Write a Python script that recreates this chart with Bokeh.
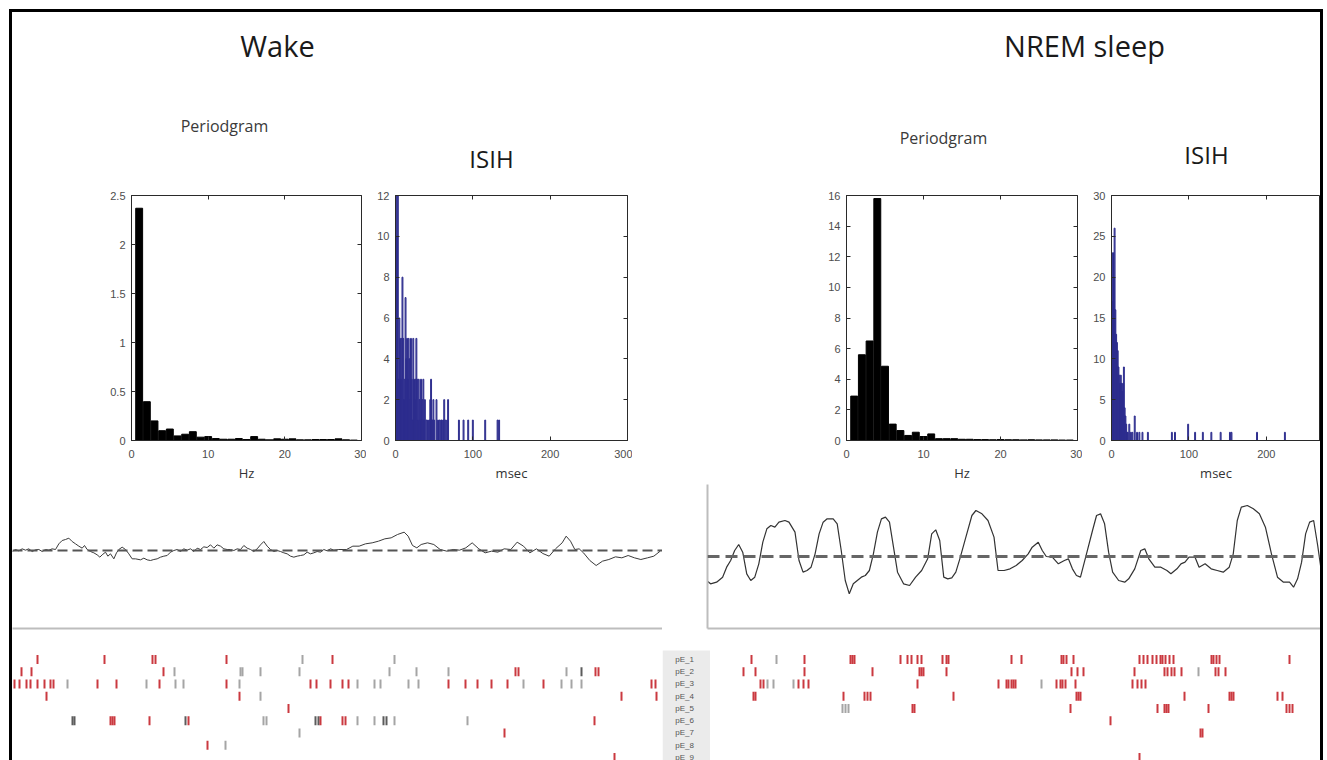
from bokeh.plotting import figure
from bokeh.layouts import row, column
from bokeh.models import (Range1d, FixedTicker, LinearAxis, Label, Spacer,
                          BoxAnnotation, Span, ColumnDataSource, CustomJSTickFormatter)
from bokeh.embed import file_html
from bokeh.resources import INLINE
from bokeh.core.properties import value

# ---------------- data ----------------
# Periodogram (power x 10^7) at 1..29 Hz
hz = list(range(1, 30))
wake_power = [2.37, 0.396, 0.20, 0.10, 0.117, 0.047, 0.064, 0.09, 0.034, 0.04,
              0.02, 0.013, 0.013, 0.02, 0.01, 0.04, 0.013, 0.007, 0.017, 0.013,
              0.017, 0.007, 0.007, 0.01, 0.01, 0.01, 0.017, 0.007, 0.004]
nrem_power = [2.9, 5.6, 6.5, 15.8, 4.85, 1.07, 0.65, 0.33, 0.54, 0.26,
              0.43, 0.12, 0.12, 0.12, 0.08, 0.08, 0.06, 0.06, 0.05, 0.06,
              0.05, 0.05, 0.04, 0.05, 0.04, 0.04, 0.04, 0.03, 0.03]

# ISI histograms (msec -> count)
wake_isi_ms = [1, 2, 3, 4, 5, 6, 7, 8, 9, 10, 11, 12, 13, 14, 15, 16, 17, 18, 19, 20,
               21, 22, 23, 24, 25, 26, 27, 28, 29, 30, 31, 32, 33, 34, 35, 36, 37, 38,
               40, 42, 44, 45, 46, 47, 48, 49, 50, 53, 55, 57, 59, 60, 62, 63, 65, 67,
               68, 82, 88, 94, 100, 116, 132, 134]
wake_isi_n = [12, 10, 12, 3, 6, 5, 3, 5, 8, 5, 2, 3, 7, 4, 5, 3, 5, 4, 2, 5,
              3, 1, 5, 3, 2, 3, 5, 3, 1, 3, 2, 1, 3, 1, 2, 3, 1, 2,
              1, 1, 1, 2, 3, 1, 1, 2, 1, 2, 1, 1, 1, 1, 1, 2, 1, 1,
              2, 1, 1, 1, 1, 1, 1, 1]
nrem_isi_ms = [1, 2, 3, 4, 5, 6, 7, 8, 9, 10, 11, 12, 13, 14, 15, 16, 17, 18, 19, 20,
               21, 23, 25, 27, 30, 33, 36, 40, 47, 78, 82, 99, 108, 118, 129, 141,
               153, 155, 188, 224]
nrem_isi_n = [17, 23, 20, 26, 16, 13, 12, 11, 9, 8, 7, 8, 7, 6, 7, 9, 4, 3, 2, 1,
              1, 2, 1, 1, 3, 1, 1, 1, 1, 1, 1, 2, 1, 1, 1, 1,
              1, 1, 1, 1]

# EEG traces (sample position, amplitude)
wake_t = [5, 15, 25, 35, 45, 55, 65, 75, 85, 95, 105, 115, 125, 135, 145, 155, 165, 175,
          185, 195, 205, 215, 222, 230, 240, 250, 260, 268, 275, 285, 292, 300, 310, 318,
          325, 335, 345, 355, 365, 375, 390, 400, 410, 420, 430, 440, 450, 460, 470, 480,
          490, 500, 510, 520, 530, 540, 550, 560, 570, 580, 590, 600, 610, 620, 630, 640,
          650, 660, 670, 680, 690, 700, 710, 720, 730, 740, 750, 760, 770, 780, 790, 800,
          810, 820, 830, 840, 850, 860, 870, 880, 890, 900, 910, 920, 930, 940, 950, 960,
          970, 985,
          1008, 1027, 1046, 1065, 1085, 1104, 1123, 1142, 1161, 1181, 1193, 1206, 1219,
          1232, 1251, 1270, 1289, 1309, 1328, 1347, 1366, 1385, 1405, 1424, 1443, 1462,
          1481, 1501, 1520, 1539, 1558, 1578, 1597, 1616, 1635, 1655, 1667, 1680, 1693,
          1706, 1719, 1738, 1757, 1776, 1795, 1815, 1834, 1853, 1872, 1891, 1911, 1930,
          1949]
wake_eeg = [-3, 3, -1, 5, 1, 5, -3, 2, 3, -3, 3, 1, 5, 3, 20, 30, 33, 37,
            27, 20, 13, 7, 15, 3, -3, -7, -13, -20, -13, -5, -17, -10, -25, -7,
            3, 10, 3, -10, -25, -25, -28, -23, -28, -30, -27, -25, -20, -17, -15, -5,
            0, 3, -3, 5, 1, 5, -3, 7, 3, 11, 9, 17, 7, 17, 13, 5,
            3, 3, 0, 5, 3, 15, 7, 3, -3, 5, 17, 27, 13, 3, -3, 0,
            -3, -7, -10, -17, -20, -17, -15, -13, -5, -10, -7, -3, -5, 3, -1, 5,
            1, 3,
            3, 13, 13, 20, 23, 28, 35, 38, 48, 55, 43, 15, 8,
            18, 23, 18, 3, -2, 3, 1, 8, 23, 5, -7, -2, -5,
            5, 3, 25, 13, -7, 5, -9, -17, 5, 23, 43, 28, 3,
            5, -7, -30, -45, -32, -27, -19, -22, -15, -22, -27, -22, -17,
            -2]

nrem_t = [15, 25, 40, 55, 65, 75, 85, 95, 105, 115, 125, 135, 145, 155, 165, 175, 185,
          195, 210, 220, 235, 245, 255, 265, 275, 285, 295, 305, 315, 330, 340, 350, 360,
          370, 380, 390, 400, 410, 420, 430, 440, 450, 460, 470, 480, 490, 505, 520, 535,
          550, 565, 575, 585, 595, 605, 615, 625, 635, 645, 660, 675, 685, 700, 715, 730,
          740, 755, 770, 785, 800, 815, 825, 840, 850, 860, 875, 890, 905, 915, 925, 935,
          945, 960, 975, 985, 995, 1005, 1015, 1025, 1040, 1055, 1065, 1080, 1095, 1105,
          1115, 1130, 1145, 1160, 1170, 1185, 1195, 1205, 1215, 1230, 1240, 1255, 1270,
          1285, 1300, 1315, 1325, 1335, 1345, 1360, 1375, 1390, 1405, 1420, 1435, 1450,
          1465, 1475, 1485, 1495, 1505, 1515, 1525, 1535, 1545]
nrem_eeg = [-72, -82, -77, -62, -32, -12, 18, 36, 13, -52, -72, -62, -22, 43, 83, 93, 88,
            103, 108, 103, 73, -12, -47, -42, -32, 8, 68, 103, 113, 113, 98, 18, -72,
            -112, -82, -72, -62, -57, -42, 8, 73, 113, 118, 103, 28, -47, -82, -87, -62,
            -42, -7, 68, 80, 48, -62, -67, -64, -47, -7, 58, 123, 138, 128, 108, 58,
            -42, -42, -37, -27, -12, 8, 28, 43, 18, 0, -2, -22, -12, -7, -37, -57,
            -62, 8, 78, 123, 128, 98, 13, -47, -72, -77, -67, -37, 18, 23,
            -7, -32, -32, -42, -52, -37, -22, -17, -2, -2, -32, -22, -37,
            -42, -47, -32, 8, 108, 148, 153, 143, 128, 88, 8, -62, -77,
            -77, -92, -67, -17, 68, 103, 108, 33, -52]

# Spike rasters (spike position per unit)
units = ["pE_1", "pE_2", "pE_3", "pE_4", "pE_5", "pE_6", "pE_7", "pE_8", "pE_9"]
wake_red = {
    "pE_1": [37, 104, 152, 155, 226, 332],
    "pE_2": [21, 31, 163, 515, 518, 595, 598],
    "pE_3": [14, 19, 26, 30, 37, 44, 50, 53, 97, 116, 159, 226, 310, 316, 330, 342, 348,
             448, 465, 477, 491, 507, 543, 651, 655],
    "pE_4": [46, 239, 621, 656],
    "pE_5": [288],
    "pE_6": [110, 112, 114, 149, 188, 320, 342, 345, 594],
    "pE_7": [504],
    "pE_8": [207],
    "pE_9": [614],
}
wake_gray = {
    "pE_1": [302, 394],
    "pE_2": [174, 240, 242, 260, 299, 389, 416, 448, 566],
    "pE_3": [67, 146, 175, 183, 239, 357, 374, 380, 408, 418, 523, 561, 571, 581],
    "pE_4": [260],
    "pE_6": [263, 266, 357, 374, 394, 467],
    "pE_7": [299],
    "pE_8": [225],
}
wake_dark = {
    "pE_2": [581],
    "pE_6": [72, 74, 185, 315, 318, 383, 386],
}
nrem_red = {
    "pE_1": [8, 51, 104, 150, 152, 154, 200, 207, 211, 217, 221, 242, 246, 248, 311, 321,
             361, 363, 366, 373, 439, 443, 447, 452, 456, 460, 462, 465, 469, 473,
             511, 513, 516, 519, 589],
    "pE_2": [43, 55, 104, 172, 219, 221, 223, 246, 371, 377, 383, 434, 464, 467, 471,
             474, 481, 515, 518, 525],
    "pE_3": [60, 63, 98, 103, 108, 217, 298, 306, 308, 311, 313, 315, 356, 360, 362,
             365, 375, 432, 437, 441, 445],
    "pE_4": [53, 55, 143, 164, 167, 170, 253, 376, 378, 380, 484, 529, 531, 533, 577,
             582, 622],
    "pE_5": [212, 214, 370, 457, 464, 466, 468, 508, 586, 589, 592],
    "pE_6": [410],
    "pE_7": [500, 502],
    "pE_9": [439],
}
nrem_gray = {
    "pE_1": [76],
    "pE_2": [498],
    "pE_3": [67, 73, 93, 341],
    "pE_5": [142, 145, 148],
}

# ---------------- helpers ----------------
AX = "#2a2a2a"
TICKC = "#4d4d4d"


def base(w, h, **kw):
    p = figure(width=w, height=h, output_backend="svg", toolbar_location=None, **kw)
    p.xgrid.visible = False
    p.ygrid.visible = False
    p.background_fill_color = "white"
    p.border_fill_color = "white"
    return p


def style_axis(ax, ticks, standoff=6):
    ax.ticker = FixedTicker(ticks=ticks)
    ax.axis_line_color = AX
    ax.major_tick_line_color = AX
    ax.major_tick_in = 4
    ax.major_tick_out = 0
    ax.minor_tick_line_color = None
    ax.formatter = CustomJSTickFormatter(code="return String(tick)")
    ax.major_label_text_font = "Liberation Sans"
    ax.major_label_text_font_size = "11px"
    ax.major_label_text_color = TICKC
    ax.major_label_standoff = standoff


def tick_only_axis(ticks):
    # mirror axis (top / right): tick marks only, drawn as minor ticks so no labels exist
    ax = LinearAxis(ticker=FixedTicker(ticks=[], minor_ticks=ticks))
    ax.axis_line_color = None
    ax.major_tick_line_color = None
    ax.minor_tick_line_color = AX
    ax.minor_tick_in = 4
    ax.minor_tick_out = 0
    ax.major_label_standoff = 0
    return ax


def matlab_plot(w, h, left, right, xr, yr, xticks, yticks, xlabel, right_axis=True):
    p = base(w, h, x_range=Range1d(*xr), y_range=Range1d(*yr),
             min_border_left=left, min_border_right=right,
             min_border_top=19, min_border_bottom=41)
    p.outline_line_color = AX
    p.outline_line_width = 1
    style_axis(p.xaxis[0], xticks, standoff=9)
    style_axis(p.yaxis[0], yticks, standoff=6)
    p.xaxis[0].axis_label = xlabel
    p.xaxis[0].axis_label_text_font = "Open Sans"
    p.xaxis[0].axis_label_text_font_style = "normal"
    p.xaxis[0].axis_label_text_font_size = "13px"
    p.xaxis[0].axis_label_text_color = "#333333"
    p.xaxis[0].axis_label_standoff = 3
    p.add_layout(tick_only_axis(xticks), "above")
    if right_axis:
        p.add_layout(tick_only_axis(yticks), "right")
    return p


def line_only_axis(ax):
    ax.ticker = FixedTicker(ticks=[])
    ax.major_tick_line_color = None
    ax.minor_tick_line_color = None
    ax.major_label_standoff = 0
    ax.axis_line_color = "#bdbdbd"
    ax.axis_line_width = 2


# ---------------- header ----------------
hdr = base(1308, 164, x_range=Range1d(12, 1320), y_range=Range1d(176, 12),
           x_axis_type=None, y_axis_type=None, min_border=0)
hdr.outline_line_color = None
hdr.text(x=[277, 1084], y=[45, 45], text=["Wake", "NREM sleep"], text_align="center",
         text_baseline="middle", text_font=value("Open Sans"), text_font_size="29px",
         text_color="#1a1a1a")
hdr.text(x=[224, 943], y=[125, 137], text=["Periodgram", "Periodgram"], text_align="center",
         text_baseline="middle", text_font=value("Open Sans"), text_font_size="16px",
         text_color="#3a3a3a")
hdr.text(x=[491, 1206], y=[158, 154], text=["ISIH", "ISIH"], text_align="center",
         text_baseline="middle", text_font=value("Open Sans"), text_font_size="24px",
         text_color="#1a1a1a")

# ---------------- periodograms & ISIH ----------------
p1 = matlab_plot(276, 308, 41, 5, (0, 30), (0, 2.5), [0, 10, 20, 30],
                 [0, 0.5, 1, 1.5, 2, 2.5], "Hz")
p1.vbar(x=hz, top=wake_power, width=0.9, fill_color="black", line_color="black")
p1.add_layout(Label(x=0, y=2.5, text="×10⁷", x_offset=0, y_offset=1, text_baseline="bottom",
                    text_font="Liberation Sans", text_font_size="10px",
                    text_color=TICKC))

p2 = matlab_plot(266, 308, 29, 5, (0, 300), (0, 12), [0, 100, 200, 300],
                 [0, 2, 4, 6, 8, 10, 12], "msec")
p2.vbar(x=wake_isi_ms, top=wake_isi_n, width=1.2, fill_color="#2d2d8e", fill_alpha=0.75,
        line_color="#2d2d8e", line_width=1)

p3 = matlab_plot(282, 308, 46, 5, (0, 30), (0, 16), [0, 10, 20, 30],
                 [0, 2, 4, 6, 8, 10, 12, 14, 16], "Hz")
p3.vbar(x=hz, top=nrem_power, width=0.9, fill_color="black", line_color="black")
p3.add_layout(Label(x=0, y=16, text="×10⁷", x_offset=0, y_offset=1, text_baseline="bottom",
                    text_font="Liberation Sans", text_font_size="10px",
                    text_color=TICKC))

p4 = matlab_plot(238, 308, 29, 0, (0, 270), (0, 30), [0, 100, 200, 300],
                 [0, 5, 10, 15, 20, 25, 30], "msec", right_axis=False)
p4.vbar(x=nrem_isi_ms, top=nrem_isi_n, width=1.2, fill_color="#2d2d8e", fill_alpha=0.75,
        line_color="#2d2d8e", line_width=1)

plots_row = row(Spacer(width=78, height=308), p1, p2, Spacer(width=168, height=308), p3, p4)

# ---------------- EEG traces ----------------
we = base(650, 148, x_range=Range1d(6, 1956), y_range=Range1d(-234, 198),
          y_axis_type=None, min_border_left=0, min_border_right=0, min_border_top=0,
          min_border_bottom=4)
we.outline_line_color = None
line_only_axis(we.xaxis[0])
we.line(wake_t, wake_eeg, line_color="#3a3a3a", line_width=1)
we.add_layout(Span(location=0, dimension="width", line_color="#555555", line_width=2,
                   line_dash="10 5"))

ne = base(620, 148, x_range=Range1d(17.4, 1542), y_range=Range1d(-216, 216),
          min_border_left=7, min_border_right=0, min_border_top=0, min_border_bottom=4)
ne.outline_line_color = None
line_only_axis(ne.xaxis[0])
line_only_axis(ne.yaxis[0])
ne.line(nrem_t, nrem_eeg, line_color="#333333", line_width=1.2)
ne.add_layout(Span(location=0, dimension="width", line_color="#666666", line_width=3,
                   line_dash="12 6"))

eeg_row = row(we, Spacer(width=38, height=148), ne)

# ---------------- rasters ----------------
YR = (9.245, -1.204)


def raster_source(d):
    xs, y0, y1 = [], [], []
    for i, u in enumerate(units):
        for t in d.get(u, []):
            xs.append(t)
            y0.append(i + 1 - 0.37)
            y1.append(i + 1 + 0.37)
    return ColumnDataSource(dict(x=xs, y0=y0, y1=y1))


def raster(w, xr, spec):
    p = base(w, 128, x_range=Range1d(*xr), y_range=Range1d(*YR),
             x_axis_type=None, y_axis_type=None, min_border=0)
    p.outline_line_color = None
    for d, c in spec:
        p.segment(x0="x", x1="x", y0="y0", y1="y1", source=raster_source(d),
                  line_color=c, line_width=2, line_alpha=0.9)
    return p


RED = "#c4232b"
GRAY = "#9b9b9b"
DARK = "#4a4a4a"

wr = raster(650, (12, 662), [(wake_gray, GRAY), (wake_dark, DARK), (wake_red, RED)])
nr = raster(610, (10, 620), [(nrem_gray, GRAY), (nrem_red, RED)])

lab = base(48, 128, x_range=Range1d(0, 1), y_range=Range1d(*YR),
           x_axis_type=None, y_axis_type=None, min_border=0)
lab.outline_line_color = None
lab.add_layout(BoxAnnotation(bottom=0.265, top=9.245, fill_color="#ebebeb", fill_alpha=1,
                             line_color=None, level="underlay"))
lab.text(x=[0.46] * len(units), y=list(range(1, len(units) + 1)), text=units,
         text_align="center", text_baseline="middle", text_font=value("Liberation Sans"),
         text_font_size="8px", text_color="#555555")

raster_row = row(wr, lab, nr)

content = column(hdr, plots_row, eeg_row, raster_row)

framed = column(
    Spacer(width=1314, height=3, styles={"background-color": "black"}),
    row(Spacer(width=3, height=748, styles={"background-color": "black"}),
        content,
        Spacer(width=3, height=748, styles={"background-color": "black"})),
)

layout = column(Spacer(width=1323, height=9), row(Spacer(width=9, height=751), framed))

open("out.html", "w").write(file_html(layout, INLINE))
